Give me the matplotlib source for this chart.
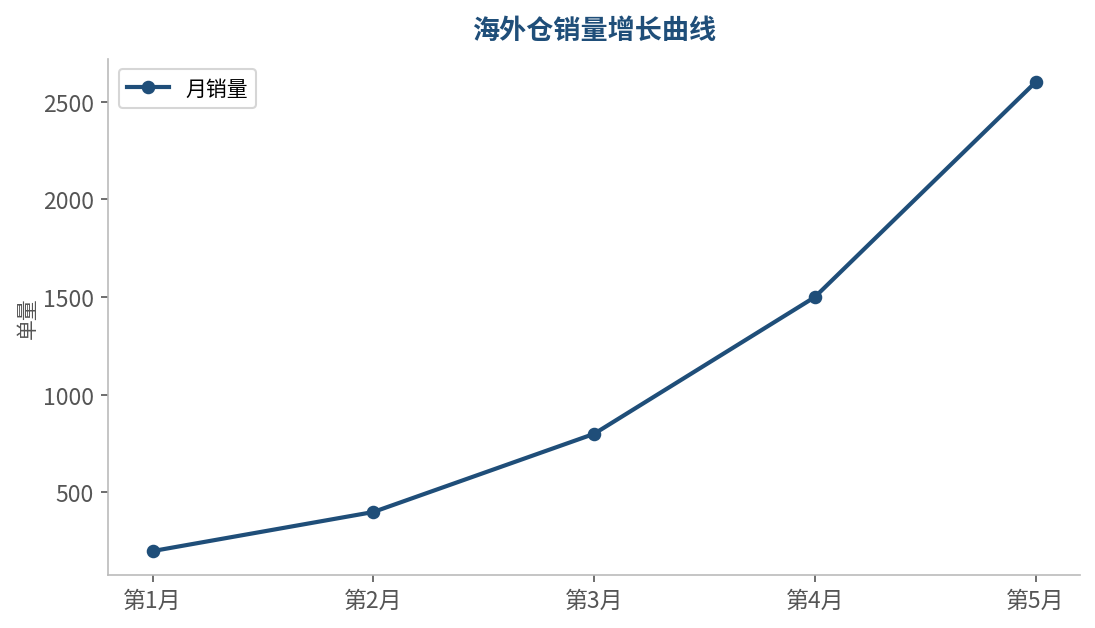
import matplotlib
matplotlib.use('Agg')
import matplotlib.pyplot as plt

plt.rcParams['font.family'] = ['Noto Sans CJK SC', 'DejaVu Sans']
plt.rcParams['axes.unicode_minus'] = False

months = ['第1月', '第2月', '第3月', '第4月', '第5月']
sales = [200, 400, 800, 1500, 2600]

color = '#1f4e79'

fig, ax = plt.subplots(figsize=(7.3, 4.1933), dpi=150)
ax.plot(months, sales, color=color, linewidth=2, marker='o', markersize=5.5, label='月销量')

ax.set_title('海外仓销量增长曲线', fontsize=13, fontweight='bold', color=color, pad=10)
ax.set_ylabel('单量', fontsize=10, color='#555555', labelpad=2)
ax.tick_params(colors='#555555', labelsize=11)
ax.spines['top'].set_visible(False)
ax.spines['right'].set_visible(False)
ax.spines['left'].set_color('#bbbbbb')
ax.spines['bottom'].set_color('#bbbbbb')
ax.legend(loc='upper left', fontsize=10)

fig.subplots_adjust(left=0.099, right=0.986, top=0.905, bottom=0.085)
fig.savefig('out.png', dpi=150)
